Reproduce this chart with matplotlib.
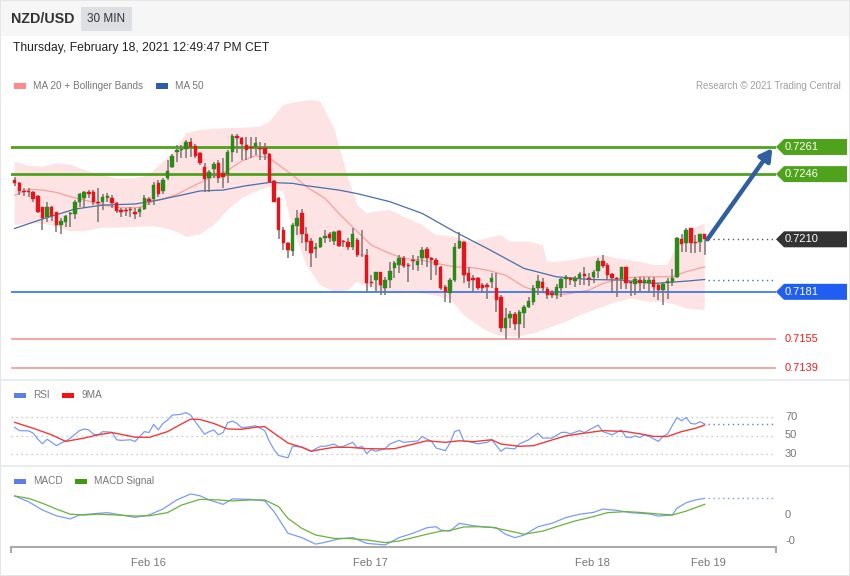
import matplotlib
matplotlib.use("Agg")
import matplotlib.pyplot as plt
import matplotlib.transforms as mtransforms
from matplotlib.patches import Rectangle, Polygon
import numpy as np

plt.rcParams['font.family'] = ['Liberation Sans', 'DejaVu Sans']

# ---- candles (30 min, NZD/USD) ----
opens = [0.72427, 0.72409, 0.72367, 0.72368, 0.72359, 0.72339, 0.72276, 0.72225, 0.72276, 0.72249,
         0.72179, 0.72197, 0.72238, 0.72238, 0.72308, 0.72330, 0.72363, 0.72359, 0.72308, 0.72308,
         0.72330, 0.72326, 0.72298, 0.72262, 0.72262, 0.72265, 0.72249, 0.72249, 0.72267, 0.72322,
         0.72322, 0.72409, 0.72367, 0.72437, 0.72501, 0.72580, 0.72593, 0.72599, 0.72639, 0.72617,
         0.72578, 0.72501, 0.72437, 0.72488, 0.72519, 0.72464, 0.72459, 0.72584, 0.72672, 0.72658,
         0.72621, 0.72612, 0.72612, 0.72606, 0.72602, 0.72569, 0.72422, 0.72330, 0.72151, 0.72077,
         0.72035, 0.72175, 0.72243, 0.72127, 0.72090, 0.72046, 0.72059, 0.72109, 0.72127, 0.72090,
         0.72145, 0.72090, 0.72087, 0.72059, 0.72096, 0.72016, 0.72016, 0.71866, 0.71875, 0.71917,
         0.71832, 0.71875, 0.71943, 0.71958, 0.71998, 0.71958, 0.71987, 0.71958, 0.71994, 0.72046,
         0.71994, 0.71987, 0.71948, 0.71838, 0.71806, 0.71875, 0.72053, 0.72087, 0.71912, 0.71888,
         0.71888, 0.71847, 0.71847, 0.71862, 0.71832, 0.71783, 0.71611, 0.71667, 0.71685, 0.71630,
         0.71691, 0.71728, 0.71755, 0.71829, 0.71866, 0.71825, 0.71801, 0.71795, 0.71832, 0.71880,
         0.71888, 0.71871, 0.71888, 0.71906, 0.71888, 0.71893, 0.71924, 0.71980, 0.71958, 0.71906,
         0.71888, 0.71880, 0.71948, 0.71866, 0.71851, 0.71875, 0.71856, 0.71856, 0.71875, 0.71847,
         0.71819, 0.71856, 0.71866, 0.71893, 0.72101, 0.72077, 0.72160, 0.72087, 0.72087, 0.72127]
highs = [0.72446, 0.72414, 0.72381, 0.72385, 0.72368, 0.72344, 0.72280, 0.72308, 0.72284, 0.72252,
         0.72216, 0.72234, 0.72249, 0.72317, 0.72354, 0.72367, 0.72372, 0.72372, 0.72385, 0.72348,
         0.72357, 0.72344, 0.72308, 0.72271, 0.72271, 0.72278, 0.72271, 0.72280, 0.72344, 0.72335,
         0.72414, 0.72427, 0.72437, 0.72538, 0.72569, 0.72621, 0.72621, 0.72648, 0.72658, 0.72624,
         0.72584, 0.72519, 0.72483, 0.72529, 0.72538, 0.72547, 0.72593, 0.72680, 0.72680, 0.72667,
         0.72667, 0.72667, 0.72667, 0.72639, 0.72630, 0.72575, 0.72427, 0.72335, 0.72169, 0.72087,
         0.72188, 0.72262, 0.72267, 0.72169, 0.72105, 0.72077, 0.72114, 0.72151, 0.72142, 0.72145,
         0.72151, 0.72096, 0.72109, 0.72164, 0.72105, 0.72151, 0.72046, 0.71902, 0.71921, 0.71921,
         0.71893, 0.71976, 0.71980, 0.72016, 0.72009, 0.71967, 0.72013, 0.72009, 0.72059, 0.72059,
         0.72003, 0.71994, 0.71954, 0.71847, 0.71884, 0.72077, 0.72138, 0.72090, 0.71948, 0.71902,
         0.71893, 0.71856, 0.71856, 0.71912, 0.71912, 0.71792, 0.71718, 0.71704, 0.71700, 0.71709,
         0.71737, 0.71783, 0.71847, 0.71902, 0.71888, 0.71838, 0.71819, 0.71851, 0.71884, 0.71902,
         0.71893, 0.71899, 0.71921, 0.71948, 0.71912, 0.71930, 0.71994, 0.72016, 0.71967, 0.71912,
         0.71893, 0.71948, 0.71948, 0.71869, 0.71893, 0.71893, 0.71893, 0.71893, 0.71893, 0.71856,
         0.71862, 0.71888, 0.71935, 0.72114, 0.72127, 0.72164, 0.72164, 0.72123, 0.72132, 0.72132]
lows = [0.72396, 0.72344, 0.72341, 0.72335, 0.72304, 0.72243, 0.72151, 0.72197, 0.72201, 0.72142,
        0.72131, 0.72169, 0.72169, 0.72212, 0.72280, 0.72274, 0.72326, 0.72289, 0.72197, 0.72262,
        0.72308, 0.72271, 0.72243, 0.72225, 0.72230, 0.72221, 0.72212, 0.72225, 0.72262, 0.72289,
        0.72289, 0.72335, 0.72348, 0.72427, 0.72492, 0.72529, 0.72547, 0.72547, 0.72556, 0.72551,
        0.72510, 0.72363, 0.72359, 0.72437, 0.72409, 0.72381, 0.72409, 0.72529, 0.72575, 0.72538,
        0.72538, 0.72547, 0.72565, 0.72538, 0.72538, 0.72409, 0.72304, 0.72101, 0.72040, 0.71998,
        0.72009, 0.72123, 0.72077, 0.72035, 0.71948, 0.71994, 0.72050, 0.72077, 0.72087, 0.72068,
        0.72059, 0.72059, 0.72040, 0.72040, 0.72003, 0.72003, 0.71810, 0.71838, 0.71810, 0.71795,
        0.71795, 0.71829, 0.71888, 0.71912, 0.71939, 0.71866, 0.71930, 0.71924, 0.71958, 0.71948,
        0.71875, 0.71902, 0.71819, 0.71755, 0.71746, 0.71866, 0.72046, 0.71856, 0.71829, 0.71810,
        0.71819, 0.71810, 0.71773, 0.71829, 0.71700, 0.71589, 0.71549, 0.71608, 0.71599, 0.71556,
        0.71608, 0.71718, 0.71737, 0.71792, 0.71810, 0.71773, 0.71777, 0.71770, 0.71783, 0.71829,
        0.71847, 0.71838, 0.71847, 0.71847, 0.71843, 0.71856, 0.71884, 0.71943, 0.71875, 0.71806,
        0.71783, 0.71825, 0.71825, 0.71788, 0.71795, 0.71810, 0.71825, 0.71806, 0.71783, 0.71764,
        0.71737, 0.71773, 0.71843, 0.71888, 0.72031, 0.72031, 0.72027, 0.72022, 0.72031, 0.72016]
closes = [0.72409, 0.72368, 0.72363, 0.72359, 0.72320, 0.72249, 0.72219, 0.72276, 0.72230, 0.72179,
          0.72201, 0.72227, 0.72243, 0.72308, 0.72348, 0.72359, 0.72348, 0.72304, 0.72298, 0.72335,
          0.72339, 0.72298, 0.72256, 0.72249, 0.72258, 0.72260, 0.72238, 0.72267, 0.72330, 0.72311,
          0.72400, 0.72348, 0.72427, 0.72477, 0.72560, 0.72593, 0.72599, 0.72639, 0.72612, 0.72562,
          0.72519, 0.72433, 0.72470, 0.72514, 0.72440, 0.72446, 0.72580, 0.72672, 0.72658, 0.72624,
          0.72593, 0.72602, 0.72630, 0.72599, 0.72569, 0.72418, 0.72308, 0.72151, 0.72077, 0.72040,
          0.72179, 0.72219, 0.72127, 0.72083, 0.72027, 0.72059, 0.72109, 0.72120, 0.72109, 0.72138,
          0.72064, 0.72083, 0.72059, 0.72127, 0.72013, 0.72013, 0.71856, 0.71856, 0.71917, 0.71847,
          0.71875, 0.71924, 0.71967, 0.71994, 0.71954, 0.71954, 0.71980, 0.71980, 0.72040, 0.71994,
          0.71987, 0.71958, 0.71829, 0.71810, 0.71875, 0.72059, 0.72090, 0.71902, 0.71869, 0.71875,
          0.71829, 0.71832, 0.71836, 0.71888, 0.71764, 0.71611, 0.71663, 0.71685, 0.71630, 0.71696,
          0.71728, 0.71759, 0.71829, 0.71869, 0.71829, 0.71795, 0.71792, 0.71838, 0.71879, 0.71891,
          0.71875, 0.71888, 0.71906, 0.71899, 0.71880, 0.71921, 0.71980, 0.71954, 0.71902, 0.71888,
          0.71880, 0.71948, 0.71856, 0.71856, 0.71880, 0.71856, 0.71875, 0.71875, 0.71838, 0.71819,
          0.71851, 0.71869, 0.71888, 0.72109, 0.72072, 0.72151, 0.72077, 0.72077, 0.72127, 0.72101]

# ---- overlays: (candle index, price) ----
bb_upper = [(0, 0.72529), (3, 0.72506), (6, 0.72501), (9, 0.72519), (12, 0.72514), (15, 0.72483),
            (19, 0.72455), (22, 0.72437), (26, 0.72437), (29, 0.72455), (32, 0.72529), (35, 0.72602),
            (37, 0.72685), (40, 0.72704), (45, 0.72713), (49, 0.72716), (53, 0.72722), (55, 0.72750),
            (58, 0.72842), (61, 0.72860), (64, 0.72869), (66, 0.72860), (69, 0.72713), (72, 0.72437),
            (74, 0.72289), (76, 0.72243), (78, 0.72252), (81, 0.72262), (84, 0.72225), (88, 0.72179),
            (91, 0.72123), (95, 0.72114), (99, 0.72087), (102, 0.72105), (105, 0.72123), (107, 0.72087),
            (111, 0.72087), (114, 0.72068), (115, 0.71976), (117, 0.71976), (120, 0.71985), (124, 0.72004),
            (127, 0.72013), (130, 0.71994), (135, 0.71976), (138, 0.71958), (141, 0.71958), (143, 0.72068),
            (145, 0.72142), (149, 0.72188)]
bb_lower = [(0, 0.72179), (3, 0.72188), (6, 0.72188), (9, 0.72169), (12, 0.72145), (15, 0.72145),
            (19, 0.72164), (22, 0.72164), (26, 0.72169), (29, 0.72175), (32, 0.72164), (35, 0.72142),
            (37, 0.72114), (40, 0.72127), (43, 0.72179), (46, 0.72262), (49, 0.72326), (52, 0.72363),
            (55, 0.72390), (58, 0.72363), (60, 0.72160), (63, 0.71958), (66, 0.71847), (69, 0.71810),
            (72, 0.71819), (74, 0.71866), (76, 0.71838), (79, 0.71810), (83, 0.71801), (86, 0.71810),
            (90, 0.71792), (94, 0.71773), (97, 0.71681), (101, 0.71608), (104, 0.71571), (108, 0.71562),
            (112, 0.71580), (115, 0.71608), (119, 0.71644), (122, 0.71681), (126, 0.71718), (130, 0.71755),
            (133, 0.71773), (137, 0.71755), (140, 0.71755), (143, 0.71737), (145, 0.71718), (149, 0.71709)]
ma20 = [(0, 0.72344), (3, 0.72376), (6, 0.72372), (9, 0.72359), (12, 0.72335), (16, 0.72311),
        (19, 0.72289), (23, 0.72274), (27, 0.72276), (30, 0.72311), (32, 0.72322), (35, 0.72348),
        (39, 0.72400), (42, 0.72437), (45, 0.72464), (49, 0.72532), (52, 0.72562), (55, 0.72551),
        (56, 0.72529), (60, 0.72455), (63, 0.72390), (67, 0.72326), (70, 0.72243), (74, 0.72142),
        (77, 0.72068), (81, 0.72022), (84, 0.71994), (88, 0.71985), (91, 0.71967), (95, 0.71948),
        (99, 0.71943), (102, 0.71930), (106, 0.71902), (110, 0.71838), (113, 0.71810), (117, 0.71792),
        (120, 0.71801), (124, 0.71819), (127, 0.71856), (131, 0.71884), (135, 0.71893), (138, 0.71893),
        (142, 0.71893), (145, 0.71921), (149, 0.71948)]
ma50 = [(0, 0.72160), (6, 0.72212), (13, 0.72267), (19, 0.72289), (26, 0.72295), (31, 0.72317),
        (36, 0.72344), (40, 0.72367), (45, 0.72372), (50, 0.72396), (55, 0.72414), (60, 0.72409),
        (63, 0.72396), (70, 0.72372), (74, 0.72352), (81, 0.72308), (88, 0.72243), (95, 0.72142),
        (102, 0.72050), (110, 0.71939), (117, 0.71893), (124, 0.71878), (131, 0.71875), (138, 0.71856),
        (145, 0.71869), (149, 0.71878)]

support_resist = [0.7261, 0.7246, 0.7181, 0.7155, 0.7139]
last_price = 0.7210

# ---- RSI / 9MA ----
rsi = [(0, 58.9), (1, 55.3), (3, 55), (4, 52.5), (5, 46), (6, 41), (7, 46), (8, 42.6), (9, 39), (10, 41.9),
       (11, 44), (12, 47), (14, 55.3), (15, 57), (16, 56), (17, 51.4), (18, 50.7), (19, 54.2), (21, 53.5),
       (22, 45.4), (23, 44.7), (25, 45.4), (26, 43.6), (27, 49), (28, 54.2), (29, 53.2), (30, 62), (31, 56),
       (32, 63), (33, 66.6), (34, 72), (36, 73), (37, 74.8), (38, 72), (39, 64.9), (41, 51.4), (42, 54.2),
       (43, 56), (44, 50.7), (45, 53.2), (46, 63.8), (47, 65.6), (48, 63), (49, 58.5), (50, 58.9), (52, 60.6),
       (54, 55.3), (55, 43.6), (56, 34.8), (57, 28.4), (59, 25.9), (60, 38.3), (62, 37.6), (63, 35.5), (64, 33),
       (66, 38.3), (67, 38.3), (69, 40.8), (70, 37.6), (71, 38.3), (73, 42.6), (74, 36.5), (75, 38.3),
       (76, 30.5), (77, 34.8), (78, 33), (80, 35.8), (81, 40.8), (83, 44.7), (84, 42.6), (86, 43.6), (87, 44),
       (88, 49), (89, 46), (90, 44), (91, 36.5), (93, 33.7), (94, 41.9), (95, 54.2), (96, 56), (97, 43.6),
       (98, 43.6), (100, 41), (102, 42.6), (103, 45.4), (105, 33), (106, 36.5), (108, 35.5), (109, 41),
       (111, 45.4), (113, 52.5), (114, 47.2), (116, 47.2), (118, 53.2), (119, 53.5), (120, 51.8), (122, 55.3),
       (123, 53.2), (126, 61.3), (127, 54.2), (129, 50.7), (131, 56), (132, 48.2), (133, 47.9), (134, 49.6),
       (135, 47.9), (136, 50.7), (137, 49), (139, 43.6), (140, 49), (141, 51.8), (143, 69.5), (144, 65.9),
       (145, 69.5), (146, 63), (147, 62.4), (148, 64.9), (149, 62.4)]
rsi_ma = [(0, 64.2), (4, 57.8), (8, 50.7), (11, 43.6), (15, 47.2), (18, 50.7), (21, 53.2), (26, 48.2),
          (29, 47.9), (33, 54.2), (36, 62.4), (38, 67.7), (40, 67.3), (43, 63), (46, 57), (49, 56.7),
          (52, 58.9), (54, 59.6), (56, 52.5), (59, 41.9), (62, 37.3), (64, 33), (66, 34.8), (69, 37.3),
          (72, 37.3), (76, 35.8), (80, 35.5), (82, 35.8), (85, 39.4), (89, 44.3), (93, 42.6), (96, 44.3),
          (99, 43.3), (103, 45.4), (105, 40.8), (109, 38.3), (112, 39), (115, 43.6), (119, 49.6),
          (123, 52.5), (127, 55.3), (132, 54.2), (135, 51.8), (138, 49), (141, 49), (144, 54.2),
          (147, 57.8), (149, 61.3)]

# ---- MACD / signal ----
macd = [(0, 0.00073), (3, 0.00051), (6, 0.00019), (9, -0.00003), (12, -0.00015), (14, 0.0), (17, 0.00005),
        (20, 0.00009), (23, 0.0), (26, -0.00009), (29, 0.0), (32, 0.00023), (35, 0.00058), (38, 0.00081),
        (40, 0.00074), (42, 0.00058), (45, 0.00041), (47, 0.00062), (51, 0.00060), (54, 0.00054),
        (56, 0.00013), (59, -0.00070), (62, -0.00087), (65, -0.00112), (67, -0.00105), (70, -0.00092),
        (73, -0.00087), (76, -0.00109), (80, -0.00115), (83, -0.00087), (86, -0.00070), (89, -0.00049),
        (91, -0.00045), (92, -0.00058), (94, -0.00062), (96, -0.00032), (99, -0.00041), (102, -0.00047),
        (104, -0.00049), (106, -0.00074), (108, -0.00087), (110, -0.00077), (113, -0.00045),
        (116, -0.00032), (119, -0.00010), (122, 0.00003), (125, 0.00010), (127, 0.00023), (130, 0.00018),
        (133, 0.00009), (137, 0.00004), (139, -0.00004), (142, 0.0), (143, 0.00026), (145, 0.00047),
        (147, 0.00058), (149, 0.00064)]
macd_signal = [(0, 0.00073), (3, 0.00064), (6, 0.00045), (9, 0.00023), (12, 0.00003), (15, 0.0),
               (18, 0.00003), (22, 0.0), (26, -0.00004), (29, -0.00003), (33, 0.00009), (36, 0.00038),
               (40, 0.00060), (44, 0.00058), (47, 0.00054), (51, 0.00058), (54, 0.00058), (57, 0.00032),
               (59, -0.00013), (62, -0.00051), (65, -0.00077), (69, -0.00090), (72, -0.00090),
               (76, -0.00096), (80, -0.00106), (83, -0.00100), (86, -0.00087), (89, -0.00074),
               (92, -0.00062), (94, -0.00059), (97, -0.00046), (100, -0.00045), (103, -0.00047),
               (107, -0.00062), (110, -0.00074), (114, -0.00062), (117, -0.00045), (121, -0.00023),
               (125, -0.00006), (128, 0.00009), (132, 0.00013), (135, 0.00010), (139, 0.00004),
               (142, 0.0), (145, 0.00015), (149, 0.00041)]

date_ticks = [28.8, 76.8, 124.8, 149.8]
date_labels = ['Feb 16', 'Feb 17', 'Feb 18', 'Feb 19']

# ---------------------------------------------------------------
W, H = 850, 576
fig = plt.figure(figsize=(8.5, 5.76), dpi=100)
fig.patch.set_facecolor('white')


def fx(px):
    return px / W


def fy(py):
    return 1 - py / H


def frect(x0, y0, x1, y1, z=-5, **kw):
    fig.patches.append(Rectangle((fx(x0), fy(y1)), fx(x1) - fx(x0), (y1 - y0) / H,
                                 transform=fig.transFigure, zorder=z, **kw))


# frame, header, panel separators (behind the axes)
frect(0, 0, 850, 576, facecolor='white', edgecolor='#e6e6e6', lw=1.5, z=-10)
frect(1, 1, 849, 36, facecolor='#f6f6f6', edgecolor='none')
frect(81, 7, 132, 31, facecolor='#dcdfe4', edgecolor='none')
frect(1, 379, 849, 381, facecolor='#e8ebef', edgecolor='none')
frect(1, 465, 849, 467, facecolor='#e8ebef', edgecolor='none')

fig.text(fx(11), fy(19), 'NZD/USD', fontsize=10.3, fontweight='bold', color='#333333', va='center')
fig.text(fx(106.5), fy(19), '30 MIN', fontsize=8.5, color='#333333', va='center', ha='center')
fig.text(fx(13), fy(48), 'Thursday, February 18, 2021 12:49:47 PM CET', fontsize=8.7,
         color='#222222', va='center')
fig.text(fx(841), fy(86), 'Research \u00a9 2021 Trading Central', fontsize=7, color='#a0a0a0',
         va='center', ha='right')


def legend_item(px, py, color, label):
    frect(px, py - 2.5, px + 12, py + 2.5, z=5, facecolor=color, edgecolor='none')
    fig.text(fx(px + 19), fy(py), label, fontsize=7.2, color='#777777', va='center')


legend_item(14, 86, '#ff8a8a', 'MA 20 + Bollinger Bands')
legend_item(156, 86, '#2e5ea8', 'MA 50')
legend_item(14, 395, '#5b7fe6', 'RSI')
legend_item(62, 395, '#f01414', '9MA')
legend_item(14, 481, '#5b7fe6', 'MACD')
legend_item(75, 481, '#3f9a12', 'MACD Signal')

XL = (-0.8, 164.4)
ax_w = fx(776) - fx(11)

# ---------------- price panel ----------------
ax = fig.add_axes([fx(11), fy(378), ax_w, (378 - 95) / H])
ax.set_xlim(*XL)
ax.set_ylim(0.71334, 0.72897)
ax.axis('off')

o = np.array(opens)
h = np.array(highs)
l = np.array(lows)
c = np.array(closes)
x = np.arange(len(c))

ux, uv = zip(*bb_upper)
lx, lv = zip(*bb_lower)
ax.fill(list(ux) + list(lx[::-1]), list(uv) + list(lv[::-1]), color='#fde3e3', lw=0, zorder=1)
ax.plot(*zip(*ma20), color='#f7a0a0', lw=0.9, zorder=2)
ax.plot(*zip(*ma50), color='#4a6ea8', lw=0.9, zorder=2)

lvl_colors = ['#4fa31c', '#4fa31c', '#2f6ff0', '#f6a6a6', '#f6a6a6']
lvl_widths = [2.0, 2.0, 1.2, 1.4, 1.4]
for v, col, lw in zip(support_resist, lvl_colors, lvl_widths):
    ax.axhline(v, color=col, lw=lw, zorder=3)

up = c >= o
cols = np.where(up, '#2b8a17', '#e3141b')
ax.vlines(x, l, h, color='#7d7373', lw=1.1, zorder=4)
body = np.maximum(np.abs(c - o), 0.00003)
ax.bar(x, body, bottom=np.minimum(o, c), width=0.75, color=cols, edgecolor=cols, lw=0.3, zorder=5)

ax.hlines(last_price, 149.8, XL[1], color='#555555', lw=1, linestyles=(0, (1, 2.5)), zorder=3)
ax.hlines(ma50[-1][1], 149.8, XL[1], color='#4a6ea8', lw=1, linestyles=(0, (1, 2.5)), zorder=3)

ax.annotate('', xy=(163.6, 0.72603), xytext=(149.6, last_price),
            arrowprops=dict(arrowstyle='-|>,head_length=0.7,head_width=0.4', color='#2f5f9f',
                            lw=3.2, shrinkA=0, shrinkB=0), zorder=6)

# right hand tags
ppx = (0.72897 - 0.71334) / (378 - 95)  # price per pixel
btr = mtransforms.blended_transform_factory(fig.transFigure, ax.transData)
tags = [(0.7261, '#4fa31c'), (0.7246, '#4fa31c'), (last_price, '#333333'), (0.7181, '#1f5ef0')]
for v, col in tags:
    hh = 8 * ppx
    pts = [(fx(776), v), (fx(784), v + hh), (fx(847), v + hh), (fx(847), v - hh), (fx(784), v - hh)]
    fig.patches.append(Polygon(pts, closed=True, transform=btr, facecolor=col, edgecolor='none', zorder=5))
    fig.text(fx(785), v, '%.4f' % v, transform=btr, fontsize=8, color='white', va='center', zorder=10)
for v in (0.7155, 0.7139):
    fig.text(fx(785), v, '%.4f' % v, transform=btr, fontsize=8, color='#f01e1e', va='center', zorder=10)

# ---------------- RSI panel ----------------
ax_r = fig.add_axes([fx(11), fy(463), ax_w, (463 - 398) / H])
ax_r.set_xlim(*XL)
ax_r.set_ylim(20.3, 90.5)
ax_r.axis('off')
ax_r.hlines([30, 50, 70], XL[0], XL[1], color='#bdbdbd', lw=0.9, linestyles=(0, (1, 3)))
ax_r.plot(*zip(*rsi), color='#7b9cf0', lw=0.9)
ax_r.plot(*zip(*rsi_ma), color='#f03a3a', lw=1.0)
ax_r.hlines(rsi[-1][1], 149.8, XL[1], color='#5b7fe6', lw=1, linestyles=(0, (1, 2.5)))
btr_r = mtransforms.blended_transform_factory(fig.transFigure, ax_r.transData)
for v in (70, 50, 30):
    fig.text(fx(785), v, str(v), transform=btr_r, fontsize=8, color='#777777', va='center')

# ---------------- MACD panel ----------------
ax_m = fig.add_axes([fx(11), fy(547), ax_w, (547 - 488) / H])
ax_m.set_xlim(*XL)
ax_m.set_ylim(-0.00123, 0.001038)
for s in ('top', 'right', 'left'):
    ax_m.spines[s].set_visible(False)
ax_m.spines['bottom'].set_color('#aaaaaa')
ax_m.spines['bottom'].set_linewidth(1.5)
ax_m.set_yticks([])
ax_m.set_xticks(date_ticks)
ax_m.set_xticklabels(date_labels)
ax_m.tick_params(axis='x', length=0, pad=8, labelsize=8, labelcolor='#777777')
ax_m.patch.set_alpha(0)
ax_m.plot(*zip(*macd), color='#7b9cf0', lw=0.9)
ax_m.plot(*zip(*macd_signal), color='#6ab23a', lw=0.9)
ax_m.hlines(macd[-1][1], 149.8, XL[1], color='#7b9cf0', lw=1, linestyles=(0, (1, 2.5)))
tr_m = mtransforms.blended_transform_factory(ax_m.transData, ax_m.transAxes)
ax_m.vlines(list(XL), -0.1, 0, transform=tr_m, color='#aaaaaa', lw=1.5, clip_on=False)
btr_m = mtransforms.blended_transform_factory(fig.transFigure, ax_m.transData)
fig.text(fx(785), 0.0, '0', transform=btr_m, fontsize=8, color='#777777', va='center')
fig.text(fx(785), -0.001, '-0', transform=btr_m, fontsize=8, color='#777777', va='center')

fig.savefig('out.png', dpi=100, facecolor=fig.get_facecolor())
